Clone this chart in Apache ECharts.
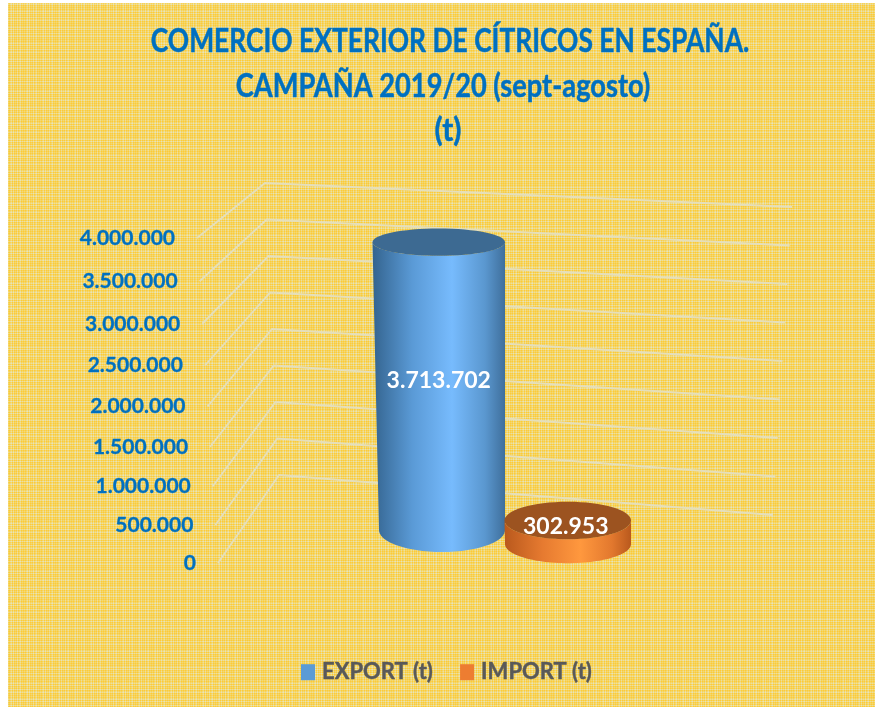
<!DOCTYPE html>
<html>
<head>
<meta charset="utf-8">
<title>Comercio exterior de cítricos</title>
<style>
html, body { margin: 0; padding: 0; background: #fff; }
#main { width: 875px; height: 707px; }
</style>
<script src="https://cdn.jsdelivr.net/npm/echarts@6/dist/echarts.min.js"></script>
</head>
<body>
<div id="main"></div>
<script>
var titleLines = ['COMERCIO EXTERIOR DE CÍTRICOS EN ESPAÑA.', 'CAMPAÑA 2019/20 (sept-agosto)', '(t)'];
var categories = ['EXPORT (t)', 'IMPORT (t)'];
var exportValues = [3713702];
var importValues = [302953];
var tickValues = [0, 500000, 1000000, 1500000, 2000000, 2500000, 3000000, 3500000, 4000000];
var tickLabels = ['0', '500.000', '1.000.000', '1.500.000', '2.000.000', '2.500.000', '3.000.000', '3.500.000', '4.000.000'];
var axisMax = 4000000;

var FONT = 'Lato, "Open Sans", sans-serif';

// plaid background tile, 16px period like the reference
function makeTile() {
	var c = document.createElement('canvas');
	c.width = 16;
	c.height = 16;
	var ctx = c.getContext('2d');
	var w = [0, 2, 0, 1, 2, 0, 1, 0, 1, 0, 1, 2, 0, 2, 0, 1];
	var colors = ['#fcca38', '#f6d258', '#f3d976', '#ecdf9f', '#e4e3bd'];
	for (var y = 0; y < 16; y++) {
		for (var x = 0; x < 16; x++) {
			ctx.fillStyle = colors[w[x] + w[y]];
			ctx.fillRect(x, y, 1, 1);
		}
	}
	return c;
}

function lerp(a, b, t) {
	return a + (b - a) * t;
}

// t runs 0..1 along the value axis of the first grid
function tOf(y) {
	return (563 - y) / (563 - 238);
}

function renderWall(params, api) {
	var y = api.coord([0, api.value(1)])[1];
	var t = tOf(y);
	// the walls bow a little because of the perspective of the original
	var frontY = y + 24 * t * (1 - t);
	var pts = [
		[lerp(218, 197, t), frontY],
		[lerp(279, 265, t), lerp(475, 183, t)],
		[lerp(773, 792, t), lerp(515, 207, t)]
	];
	return {
		type: 'polyline',
		shape: { points: pts },
		style: { stroke: '#e5dfbb', lineWidth: 1.8, fill: null }
	};
}

function renderTick(params, api) {
	var y = api.coord([0, api.value(1)])[1];
	var t = tOf(y);
	return {
		type: 'text',
		style: {
			text: tickLabels[params.dataIndex],
			x: lerp(196, 175, t),
			y: y + 24 * t * (1 - t),
			align: 'right',
			verticalAlign: 'middle',
			fill: '#0070c0',
			stroke: '#0070c0',
			lineWidth: 0.3,
			font: 'bold 21px ' + FONT
		}
	};
}

function cylinder(side, top, baseShift) {
	return function (params, api) {
		var p0 = api.coord([api.value(0), 0]);
		var p1 = api.coord([api.value(0), api.value(1)]);
		var band = api.size([1, 0])[0];
		var t = api.value(1) / axisMax;
		var y0 = p0[1] + baseShift;
		var y1 = p1[1] + baseShift;
		var cx0 = p0[0], rx0 = band / 2;
		var cx1 = cx0 - 3.5 * t, rx1 = rx0 + 3.5 * t;
		var ry0 = 22 - baseShift * 0.2;
		var ry1 = lerp(ry0, 13, t);
		var pts = [];
		var i, a;
		for (i = 0; i <= 60; i++) {
			a = Math.PI * i / 60;
			pts.push([cx0 + rx0 * Math.cos(a), y0 + ry0 * Math.sin(a)]);
		}
		for (i = 0; i <= 60; i++) {
			a = Math.PI * i / 60;
			pts.push([cx1 - rx1 * Math.cos(a), y1 + ry1 * Math.sin(a)]);
		}
		return {
			type: 'group',
			children: [{
				type: 'polygon',
				shape: { points: pts },
				style: {
					fill: {
						type: 'linear', x: 0, y: 0, x2: 1, y2: 0,
						colorStops: side
					}
				}
			}, {
				type: 'ellipse',
				shape: { cx: cx1, cy: y1, rx: rx1, ry: ry1 },
				style: { fill: top }
			}, {
				type: 'text',
				style: {
					text: String(api.value(1)).replace(/\B(?=(\d{3})+$)/g, '.'),
					x: cx1 - (t > 0.5 ? 0 : 2),
					y: t > 0.5 ? (y0 + y1) / 2 - 6 : y1 + 6,
					align: 'center',
					verticalAlign: 'middle',
					fill: '#fff',
					font: 'bold 23px ' + FONT
				}
			}]
		};
	};
}

function toPoints(cat, values) {
	return values.map(function (v) { return [cat, v]; });
}

// Calibri-like narrow title: Lato squeezed per line
function titleText(line, x, y, sx) {
	return {
		type: 'text',
		silent: true,
		x: x,
		y: y,
		scaleX: sx,
		style: {
			text: line,
			align: 'center',
			verticalAlign: 'middle',
			fill: '#0070c0',
			stroke: '#0070c0',
			lineWidth: 0.5,
			font: 'bold 33px ' + FONT
		}
	};
}

var myChart = echarts.init(document.getElementById('main'));

myChart.setOption({
	animation: false,
	backgroundColor: '#fff',
	legend: {
		data: categories,
		left: 296,
		top: 656,
		icon: 'rect',
		itemWidth: 14,
		itemHeight: 16,
		itemGap: 27,
		textStyle: {
			color: '#595959',
			fontFamily: FONT,
			fontWeight: 'bold',
			fontSize: 22,
			textBorderColor: '#595959',
			textBorderWidth: 0.4,
			padding: [0, 0, 0, 2]
		}
	},
	graphic: [{
		type: 'rect',
		z: -10,
		silent: true,
		shape: { x: 8, y: 3, width: 867, height: 704 },
		style: { fill: { image: makeTile(), repeat: 'repeat' } }
	},
	titleText(titleLines[0], 450, 41.5, 0.8),
	titleText(titleLines[1], 443, 86.5, 0.825),
	titleText(titleLines[2], 448, 130, 0.9)],
	// grid 0: walls and tick labels; grid 1: the cylinders
	grid: [
		{ left: 100, width: 100, top: 238, height: 325 },
		{ left: 379, width: 252, top: 220, height: 310 }
	],
	xAxis: [
		{ gridIndex: 0, type: 'value', min: 0, max: 1, show: false },
		{ gridIndex: 1, type: 'category', data: categories, show: false }
	],
	yAxis: [
		{ gridIndex: 0, type: 'value', min: 0, max: axisMax, show: false },
		{ gridIndex: 1, type: 'value', min: 0, max: axisMax, show: false }
	],
	series: [{
		name: 'walls',
		type: 'custom',
		xAxisIndex: 0,
		yAxisIndex: 0,
		z: 1,
		silent: true,
		renderItem: renderWall,
		encode: { x: 0, y: 1 },
		data: toPoints(0, tickValues)
	}, {
		name: 'ticks',
		type: 'custom',
		xAxisIndex: 0,
		yAxisIndex: 0,
		z: 1,
		silent: true,
		renderItem: renderTick,
		encode: { x: 0, y: 1 },
		data: toPoints(0, tickValues)
	}, {
		name: categories[0],
		type: 'custom',
		xAxisIndex: 1,
		yAxisIndex: 1,
		z: 3,
		itemStyle: { color: '#5b9bd5' },
		renderItem: cylinder([
			{ offset: 0, color: '#34648f' },
			{ offset: 0.3, color: '#5a9ad6' },
			{ offset: 0.6, color: '#77bbfd' },
			{ offset: 0.85, color: '#5a97cf' },
			{ offset: 1, color: '#3f6f9c' }
		], '#3d6a92', 0),
		encode: { x: 0, y: 1 },
		data: toPoints(0, exportValues)
	}, {
		name: categories[1],
		type: 'custom',
		xAxisIndex: 1,
		yAxisIndex: 1,
		z: 4,
		itemStyle: { color: '#ed7d31' },
		renderItem: cylinder([
			{ offset: 0, color: '#b9591d' },
			{ offset: 0.3, color: '#e67a30' },
			{ offset: 0.6, color: '#ff983e' },
			{ offset: 0.85, color: '#e2782e' },
			{ offset: 1, color: '#b9591d' }
		], '#9c5320', 14),
		encode: { x: 0, y: 1 },
		data: toPoints(1, importValues)
	}]
});
</script>
</body>
</html>
